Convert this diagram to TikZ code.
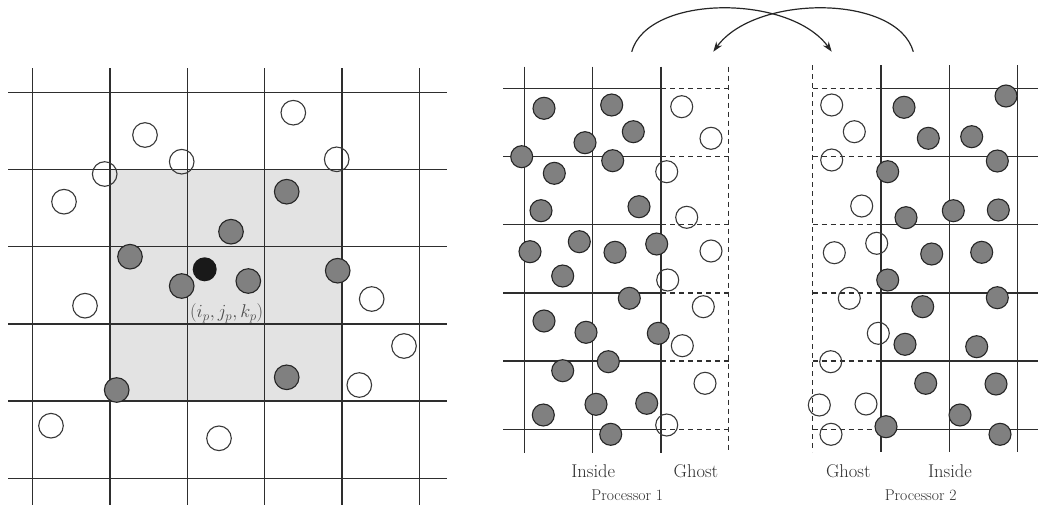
\documentclass[tikz,border=0pt]{standalone}
\usepackage{fix-cm}
\usepackage{fontspec}
\usetikzlibrary{arrows.meta}
\begin{document}
\begin{tikzpicture}[x=1pt,y=-1pt,
  gridline/.style={draw=black!82, line width=1.4pt},
  ghostline/.style={draw=black!82, line width=1.3pt, dash pattern=on 5pt off 4pt},
  opn/.style={draw=black!78, line width=1.1pt},
  full/.style={draw=black!85, fill=black!50, line width=1.1pt},
  lbl/.style={text=black!82, font=\fontsize{18.5}{22}\selectfont, inner sep=0pt},
  plbl/.style={text=black!82, font=\fontsize{15.7}{19}\selectfont, inner sep=0pt},
  swap/.style={draw=black!85, line width=1.2pt, -{Stealth[length=10pt,width=7pt]}}
]
\useasboundingbox (0,0) rectangle (1044,506);
% ---------------- left panel ----------------
\fill[black!11] (110,169.3) rectangle (341.7,401);
\foreach \i in {0,...,5}{
  \draw[gridline] ({32.7+77.33*\i},68) -- ({32.7+77.33*\i},505);
  \draw[gridline] (8,{92.3+77.2*\i}) -- (447,{92.3+77.2*\i});
}
\foreach \p in {(293.3,112.7),(145,135),(181.7,161.7),(104.7,174),(336.7,159.3),(64,201.7),
  (85,305.7),(371.7,299),(404,346),(359.3,385),(51,425.7),(219,438.3)}
  \draw[opn] \p circle (12.3pt);
\foreach \p in {(286.7,191.7),(231,231.7),(130,256.7),(181.7,286),(248.3,281),(337.7,270.7),
  (286.7,377.3),(116.7,390)}
  \draw[full] \p circle (12.3pt);
\fill[black!90] (204.7,269.3) circle (12pt);
\node[lbl, text=black!70] (ijk) at (226.7,313) {$(i_p, j_p, k_p)$};
% ---------------- processor 1 ----------------
\foreach \x in {524.3,592.3,661}
  \draw[gridline] (\x,66.7) -- (\x,453.3);
\draw[ghostline] (728.7,66.7) -- (728.7,453.3);
\foreach \i in {0,...,5}{
  \draw[gridline] (503.3,{88.3+68.2*\i}) -- (661,{88.3+68.2*\i});
  \draw[ghostline] (661,{88.3+68.2*\i}) -- (728.7,{88.3+68.2*\i});
}
\foreach \p in {(681.7,106.7),(711,138.3),(666.7,171.7),(686.7,217.3),(711,251),
  (667.7,280),(703.3,306.7),(682.3,345.7),(705,383.3),(666.7,425)}
  \draw[opn] \p circle (11pt);
\foreach \p in {(544,108.3),(611.7,105),(633.3,131.7),(585,142.7),(521.7,156.7),(612.7,160.7),
  (554.3,173.3),(541,210.7),(639,206.7),(530,251.7),(579.3,241.7),(615,252.3),(656.7,244),
  (562.7,276),(629.3,298.3),(544,321),(586,332.3),(658.3,333.3),(608.3,361.7),(562.7,370.7),
  (596,404.3),(646.7,403.3),(543.3,415),(610.7,434.3)}
  \draw[full] \p circle (11pt);
\node[lbl] (in1) at (593.3,470.7) {Inside};
\node[lbl] (gh1) at (696,470.7) {Ghost};
\node[plbl] (pr1) at (627.3,495.5) {Processor 1};
% ---------------- processor 2 ----------------
\foreach \x in {881,949.3,1017.3}
  \draw[gridline] (\x,65) -- (\x,452);
\draw[ghostline] (812.7,65) -- (812.7,452);
\foreach \i in {0,...,5}{
  \draw[gridline] (881,{88.3+68.2*\i}) -- (1038.3,{88.3+68.2*\i});
  \draw[ghostline] (812.7,{88.3+68.2*\i}) -- (881,{88.3+68.2*\i});
}
\foreach \p in {(831.7,105),(854.3,131.7),(831.7,160),(861.7,206),(834.3,252.7),(876.7,243.3),
  (849.3,298.3),(878.3,333.3),(830.7,361.7),(819.3,405),(866,404),(831,434.3)}
  \draw[opn] \p circle (11pt);
\foreach \p in {(904,107.3),(1006,96),(928.3,138.3),(971.7,136.7),(997.3,161),(887.7,171.7),
  (906,217.7),(953.3,210.7),(998.3,210),(931.7,254),(981.7,252.3),(887.7,280),(997.3,297.7),
  (922.7,306.7),(905,344.3),(976.7,346.7),(925.7,383.3),(996,384),(960,415),(886,426.7),
  (1000,434.3)}
  \draw[full] \p circle (11pt);
\node[lbl] (gh2) at (848.3,470.7) {Ghost};
\node[lbl] (in2) at (950,470.7) {Inside};
\node[plbl] (pr2) at (920.7,495.5) {Processor 2};
% ---------------- exchange arrows ----------------
\coordinate (s1) at (631.7,51.7);
\coordinate (e1) at (831.7,51.7);
\coordinate (s2) at (913.3,51.7);
\coordinate (e2) at (713.3,51.7);
\draw[swap] (s1) .. controls (648,-6) and (790,-6) .. (e1);
\draw[swap] (s2) .. controls (897,-6) and (755,-6) .. (e2);
\end{tikzpicture}
\end{document}
